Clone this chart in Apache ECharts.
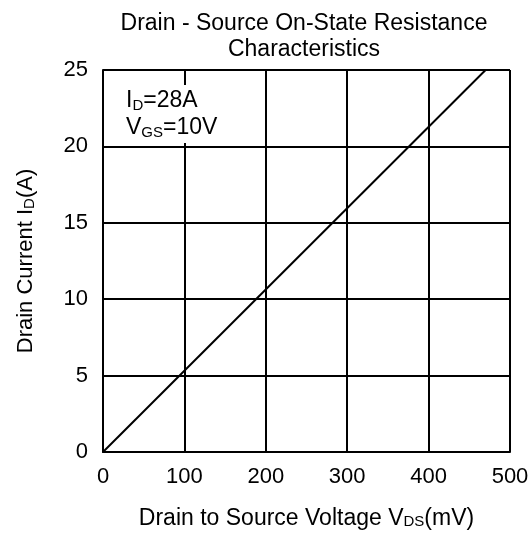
<!DOCTYPE html>
<html>
<head>
<meta charset="utf-8">
<script src="https://cdn.jsdelivr.net/npm/echarts@6/dist/echarts.min.js"></script>
<style>
  html, body { margin: 0; padding: 0; background: #fff; }
  #chart { width: 532px; height: 535px; }
</style>
</head>
<body>
<div id="chart"></div>
<script>
// 数据：漏源电压 (mV) 与漏极电流 (A)
const voltage = [0, 470];
const current = [0, 25];

// 坐标轴刻度
const xMin = 0, xMax = 500, xStep = 100;
const yMin = 0, yMax = 25, yStep = 5;

const FONT = 'Liberation Sans, Arial, sans-serif';
const INK = '#000';

function richText(size, subSize, subPad) {
    return {
        a: { color: INK, fontFamily: FONT, fontSize: size, fontWeight: 'normal' },
        s: { color: INK, fontFamily: FONT, fontSize: subSize, fontWeight: 'normal', padding: [subPad, 0, 0, 0] }
    };
}

const chart = echarts.init(document.getElementById('chart'));

const annoRich = richText(23, 15, 10);
annoRich.a.lineHeight = 27;
annoRich.s.lineHeight = 27;

const option = {
    backgroundColor: '#fff',
    animation: false,
    title: [
        {
            text: 'Drain - Source On-State Resistance\nCharacteristics',
            left: 299,
            top: 6,
            textAlign: 'center',
            textStyle: {
                color: INK,
                fontFamily: FONT,
                fontSize: 23,
                fontWeight: 'normal',
                lineHeight: 26
            }
        },
        {
            // 测试条件注释
            text: '{a|I}{s|D}{a|=28A}\n{a|V}{s|GS}{a|=10V}',
            left: 120,
            top: 84,
            backgroundColor: '#fff',
            padding: [3, 6, 3, 6],
            textStyle: { rich: annoRich }
        }
    ],
    grid: {
        left: 103,
        right: 22,
        top: 70,
        bottom: 82
    },
    xAxis: {
        type: 'value',
        min: xMin,
        max: xMax,
        interval: xStep,
        name: '{a|Drain to Source Voltage V}{s|DS}{a|(mV)}',
        nameLocation: 'middle',
        nameGap: 55,
        nameTextStyle: { rich: richText(23, 15, 7) },
        axisLine: { show: true, lineStyle: { color: INK, width: 2 } },
        axisTick: { show: false },
        axisLabel: { color: INK, fontFamily: FONT, fontSize: 22, margin: 14 },
        splitLine: { show: true, lineStyle: { color: INK, width: 2 } }
    },
    yAxis: {
        type: 'value',
        min: yMin,
        max: yMax,
        interval: yStep,
        name: '{a|Drain Current I}{s|D}{a|(A)}',
        nameLocation: 'middle',
        nameRotate: 90,
        nameGap: 66,
        nameTextStyle: { rich: richText(22, 15, 7) },
        axisLine: { show: true, lineStyle: { color: INK, width: 2 } },
        axisTick: { show: false },
        axisLabel: { color: INK, fontFamily: FONT, fontSize: 22, margin: 15 },
        splitLine: { show: true, lineStyle: { color: INK, width: 2 } }
    },
    series: [
        {
            type: 'line',
            data: voltage.map((v, i) => [v, current[i]]),
            symbol: 'none',
            lineStyle: { color: INK, width: 2 },
            z: 5
        }
    ]
};

chart.setOption(option);
</script>
</body>
</html>
